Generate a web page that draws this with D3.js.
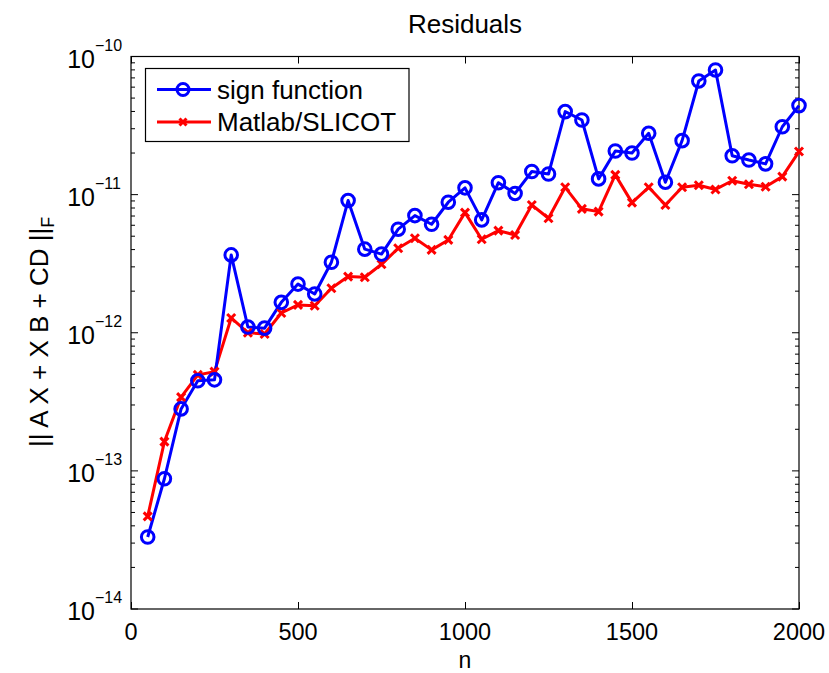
<!DOCTYPE html>
<html>
<head>
<meta charset="utf-8">
<script src="https://cdn.jsdelivr.net/npm/d3@7"></script>
<style>
  html, body { margin: 0; padding: 0; background: #fff; }
  svg { display: block; }
  text { font-family: "Liberation Sans", Arial, sans-serif; fill: #000; }
</style>
</head>
<body>
<svg id="chart" width="829" height="673"></svg>
<script>
// ---- data ----
const nValues = [50,100,150,200,250,300,350,400,450,500,550,600,650,700,750,800,850,900,950,1000,
                 1050,1100,1150,1200,1250,1300,1350,1400,1450,1500,1550,1600,1650,1700,1750,1800,1850,1900,1950,2000];
const signFunction = [3.32e-14,8.77e-14,2.81e-13,4.49e-13,4.56e-13,3.66e-12,1.10e-12,1.08e-12,1.66e-12,2.25e-12,
                      1.91e-12,3.24e-12,9.06e-12,4.03e-12,3.71e-12,5.62e-12,7.05e-12,6.10e-12,8.81e-12,1.12e-11,
                      6.56e-12,1.22e-11,1.02e-11,1.47e-11,1.41e-11,3.99e-11,3.47e-11,1.30e-11,2.07e-11,2.00e-11,
                      2.78e-11,1.23e-11,2.46e-11,6.65e-11,7.99e-11,1.91e-11,1.78e-11,1.67e-11,3.10e-11,4.41e-11];
const matlabSlicot = [4.68e-14,1.63e-13,3.42e-13,4.95e-13,5.23e-13,1.28e-12,1.00e-12,0.98e-12,1.39e-12,1.59e-12,
                      1.57e-12,2.10e-12,2.55e-12,2.52e-12,3.13e-12,4.09e-12,4.83e-12,3.98e-12,4.70e-12,7.41e-12,
                      4.75e-12,5.49e-12,5.10e-12,8.41e-12,6.75e-12,1.13e-11,7.89e-12,7.53e-12,1.39e-11,8.75e-12,
                      1.13e-11,8.41e-12,1.13e-11,1.17e-11,1.09e-11,1.26e-11,1.19e-11,1.14e-11,1.35e-11,2.05e-11];
const seriesNames = ["sign function", "Matlab/SLICOT"];
const xTicks = [0, 500, 1000, 1500, 2000];
const yExponents = [-14, -13, -12, -11, -10];
const titleText = "Residuals";
const xLabel = "n";

// ---- layout ----
const L = 131, R = 799, T = 56.5, B = 609;
const svg = d3.select("#chart");
const x = d3.scaleLinear().domain([0, 2000]).range([L, R]);
const y = d3.scaleLog().domain([1e-14, 1e-10]).range([B, T]);

svg.append("rect").attr("x", L).attr("y", T).attr("width", R - L).attr("height", B - T)
  .attr("fill", "#fff");

// ticks (inward, on all four sides)
const tickG = svg.append("g").attr("stroke", "#000").attr("stroke-width", 1);
const majLen = 7, minLen = 4;
xTicks.forEach(t => {
  const px = Math.round(x(t)) + 0.5;
  tickG.append("line").attr("x1", px).attr("x2", px).attr("y1", B).attr("y2", B - majLen);
  tickG.append("line").attr("x1", px).attr("x2", px).attr("y1", T).attr("y2", T + majLen);
});
const minorVals = [];
for (let e = -14; e < -10; e++) for (let m = 2; m <= 9; m++) minorVals.push(m * Math.pow(10, e));
minorVals.forEach(v => {
  const py = y(v);
  tickG.append("line").attr("x1", L).attr("x2", L + minLen).attr("y1", py).attr("y2", py);
  tickG.append("line").attr("x1", R).attr("x2", R - minLen).attr("y1", py).attr("y2", py);
});
yExponents.forEach(e => {
  const py = y(Math.pow(10, e));
  tickG.append("line").attr("x1", L).attr("x2", L + majLen).attr("y1", py).attr("y2", py);
  tickG.append("line").attr("x1", R).attr("x2", R - majLen).attr("y1", py).attr("y2", py);
});

// frame
svg.append("rect").attr("x", L).attr("y", T).attr("width", R - L).attr("height", B - T)
  .attr("fill", "none").attr("stroke", "#000").attr("stroke-width", 1.2);

// x tick labels
svg.append("g").selectAll("text").data(xTicks).join("text")
  .attr("x", d => x(d)).attr("y", 640)
  .attr("text-anchor", "middle").attr("font-size", 23.5)
  .text(d => d);

// y tick labels 10^e
const yl = svg.append("g").selectAll("g").data(yExponents).join("g")
  .attr("transform", d => `translate(0,${y(Math.pow(10, d))})`);
yl.append("text").attr("x", 95).attr("y", 11).attr("text-anchor", "end")
  .attr("font-size", 25).text("10");
yl.append("text").attr("x", 95).attr("y", -6).attr("text-anchor", "start")
  .attr("font-size", 16).text(d => "\u2212" + Math.abs(d));

// title
svg.append("text").attr("x", 465).attr("y", 33).attr("text-anchor", "middle")
  .attr("font-size", 26).text(titleText);

// x label
svg.append("text").attr("x", 465).attr("y", 668).attr("text-anchor", "middle")
  .attr("font-size", 23).text(xLabel);

// y label (rotated)
const ylab = svg.append("text").attr("transform", "translate(48,447) rotate(-90)")
  .attr("font-size", 26).attr("text-anchor", "start");
ylab.append("tspan").text("|| A X + X B + CD ||");
ylab.append("tspan").attr("font-size", 18).attr("dy", 6).text("F");

// lines
const line = d3.line().x((d, i) => x(nValues[i])).y(d => y(d));
const plot = svg.append("g");
plot.append("path").datum(matlabSlicot).attr("d", line)
  .attr("fill", "none").attr("stroke", "#ff0000").attr("stroke-width", 3).attr("stroke-linejoin", "round");
plot.append("path").datum(signFunction).attr("d", line)
  .attr("fill", "none").attr("stroke", "#0000ff").attr("stroke-width", 3).attr("stroke-linejoin", "round");

// markers
function crossPath(cx, cy, s) {
  return `M${cx - s},${cy - s}L${cx + s},${cy + s}M${cx - s},${cy + s}L${cx + s},${cy - s}`;
}
plot.append("g").selectAll("path").data(matlabSlicot).join("path")
  .attr("d", (d, i) => crossPath(x(nValues[i]), y(d), 4))
  .attr("stroke", "#ff0000").attr("stroke-width", 3).attr("fill", "none");
plot.append("g").selectAll("circle").data(signFunction).join("circle")
  .attr("cx", (d, i) => x(nValues[i])).attr("cy", d => y(d)).attr("r", 6.3)
  .attr("fill", "none").attr("stroke", "#0000ff").attr("stroke-width", 3);

// legend
const lg = svg.append("g");
lg.append("rect").attr("x", 145.5).attr("y", 68.5).attr("width", 263.5).attr("height", 73)
  .attr("fill", "#fff").attr("stroke", "#000").attr("stroke-width", 1.2);
const rows = [{ name: seriesNames[0], color: "#0000ff", y: 89.5, mark: "circle" },
              { name: seriesNames[1], color: "#ff0000", y: 122, mark: "cross" }];
rows.forEach(r => {
  lg.append("line").attr("x1", 157).attr("x2", 211).attr("y1", r.y).attr("y2", r.y)
    .attr("stroke", r.color).attr("stroke-width", 3);
  if (r.mark === "circle") {
    lg.append("circle").attr("cx", 183).attr("cy", r.y).attr("r", 6)
      .attr("fill", "none").attr("stroke", r.color).attr("stroke-width", 3);
  } else {
    lg.append("path").attr("d", crossPath(183, r.y, 3.5))
      .attr("stroke", r.color).attr("stroke-width", 3);
  }
  lg.append("text").attr("x", 217).attr("y", r.y + 9).attr("font-size", 26).text(r.name);
});
</script>
</body>
</html>
